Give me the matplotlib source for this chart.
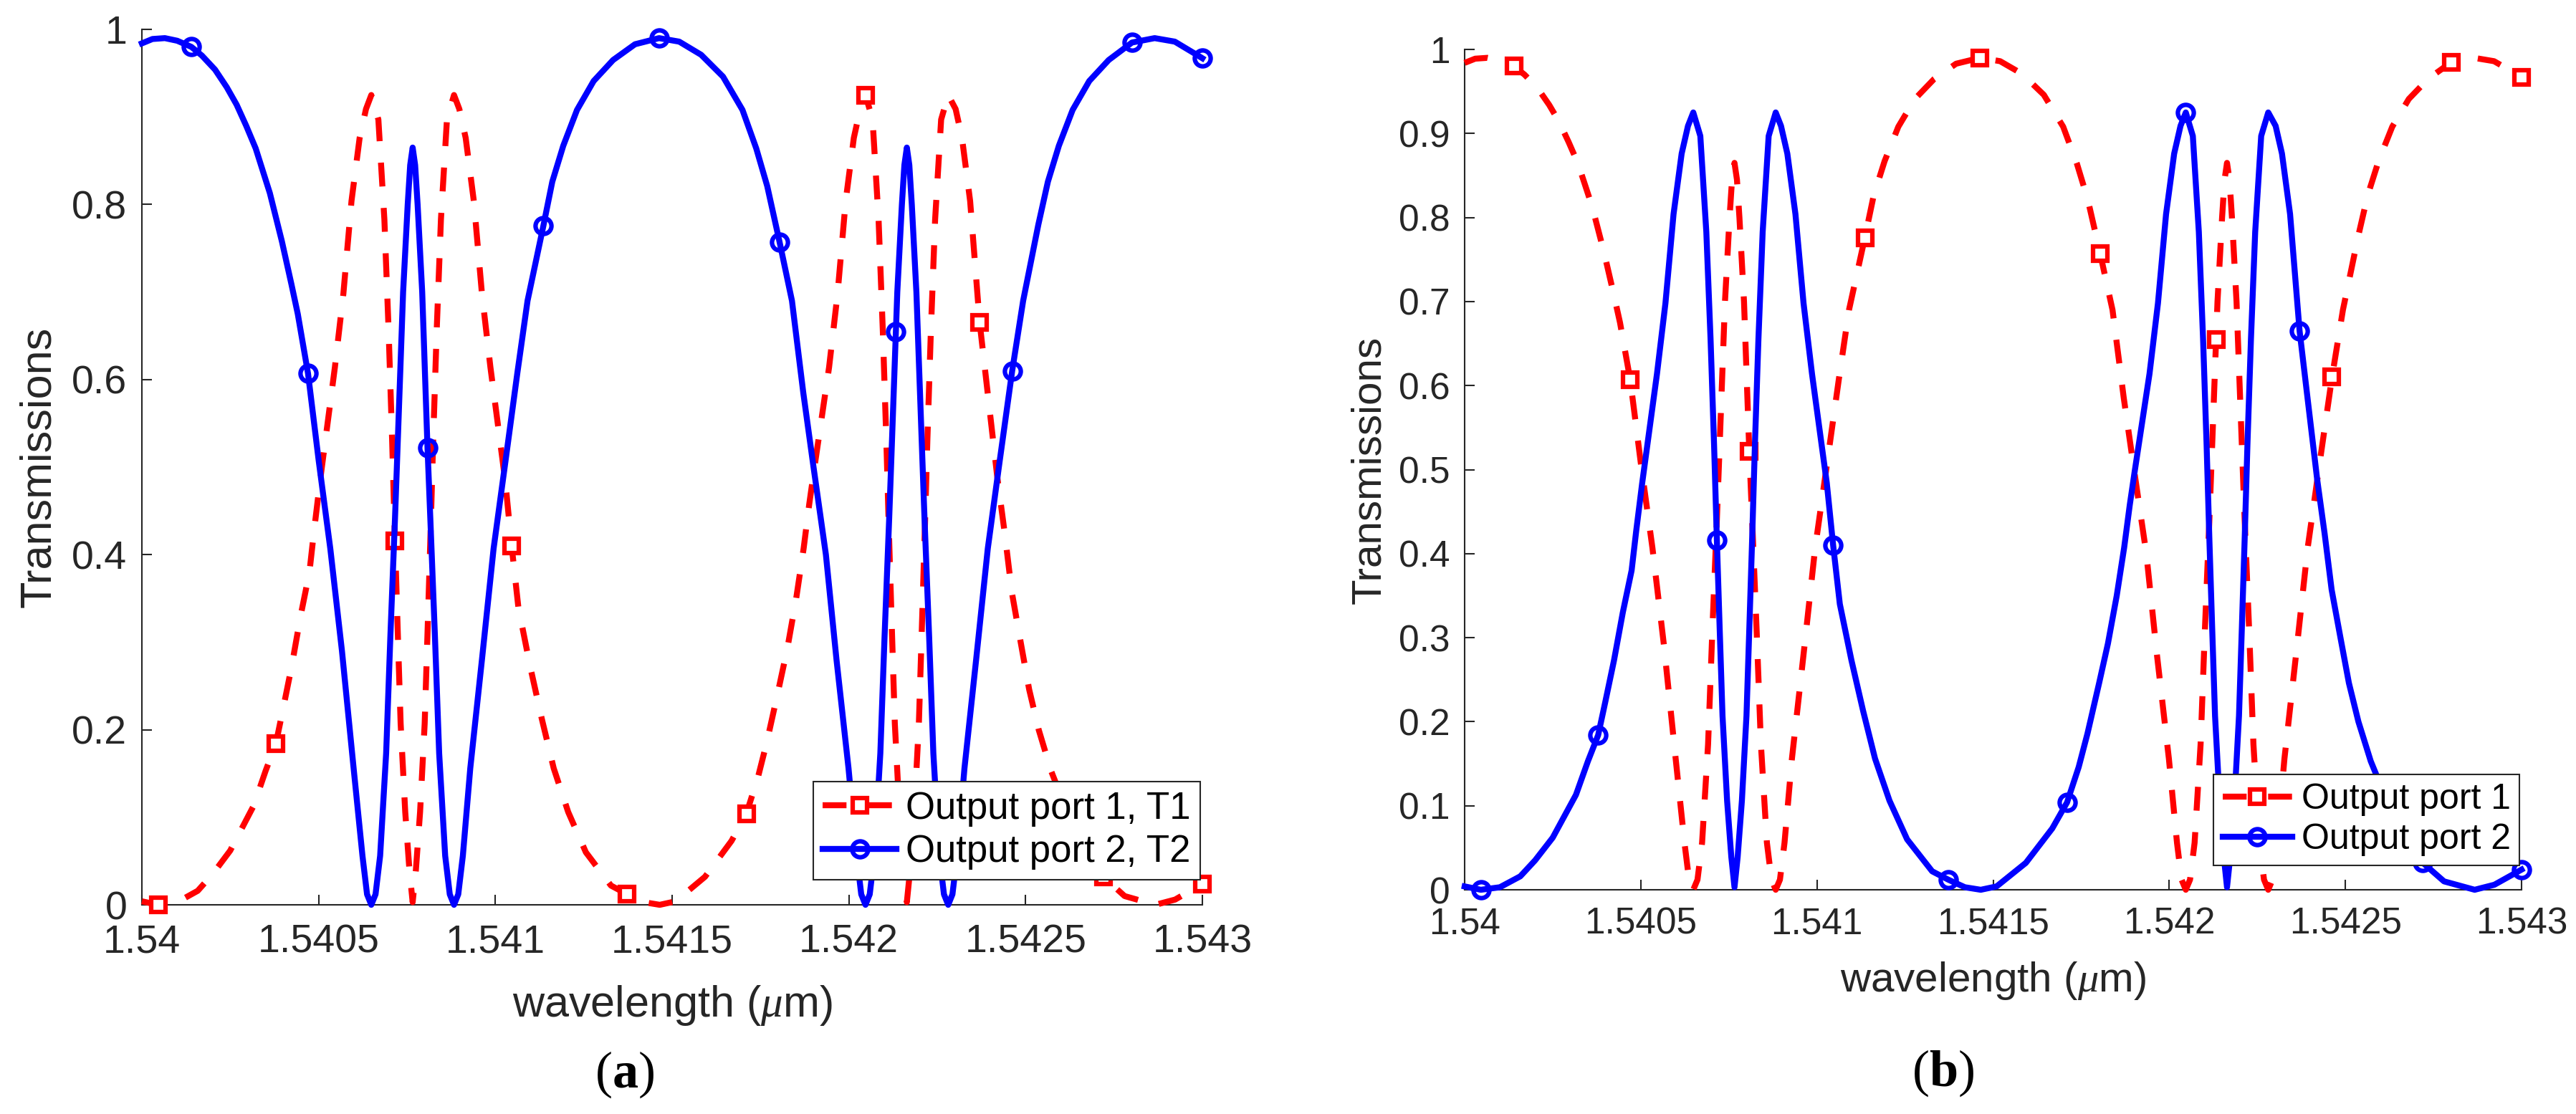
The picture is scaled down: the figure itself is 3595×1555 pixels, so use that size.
import numpy as np
import matplotlib
matplotlib.use('Agg')
import matplotlib.pyplot as plt
from matplotlib.lines import Line2D

plt.rcParams['font.family'] = ['Liberation Sans', 'DejaVu Sans']
plt.rcParams['mathtext.fontset'] = 'custom'
plt.rcParams['mathtext.rm'] = 'Liberation Serif'
plt.rcParams['mathtext.it'] = 'Liberation Serif:italic'
plt.rcParams['mathtext.bf'] = 'Liberation Serif:bold'

# -------- axis ticks --------
x_ticks = [1.54, 1.5405, 1.541, 1.5415, 1.542, 1.5425, 1.543]
x_tick_labels = ['1.54', '1.5405', '1.541', '1.5415', '1.542', '1.5425', '1.543']
y_ticks_a = [0, 0.2, 0.4, 0.6, 0.8, 1]
y_tick_labels_a = ['0', '0.2', '0.4', '0.6', '0.8', '1']
y_ticks_b = [0, 0.1, 0.2, 0.3, 0.4, 0.5, 0.6, 0.7, 0.8, 0.9, 1]
y_tick_labels_b = ['0', '0.1', '0.2', '0.3', '0.4', '0.5', '0.6', '0.7', '0.8', '0.9', '1']

# -------- curve with wide lobes (port 2 in (a), port 1 in (b)) --------
lobe_x = [1.540000, 1.540030, 1.540065, 1.540100, 1.540140, 1.540170, 1.540207, 1.540240,
          1.540268, 1.540295, 1.540322, 1.540362, 1.540396, 1.540423, 1.540441, 1.540470,
          1.540500, 1.540533, 1.540566, 1.540599, 1.540624, 1.540637, 1.540649, 1.540661,
          1.540674, 1.540691, 1.540703, 1.540716, 1.540722, 1.540739, 1.540752, 1.540759,
          1.540766, 1.540773, 1.540780, 1.540793, 1.540808, 1.540816, 1.540829, 1.540841,
          1.540858, 1.540871, 1.540883, 1.540895, 1.540908, 1.540929, 1.540962, 1.540995,
          1.541029, 1.541062, 1.541091, 1.541136, 1.541161, 1.541192, 1.541231, 1.541278,
          1.541333, 1.541395, 1.541463, 1.541520, 1.541582, 1.541644, 1.541699, 1.541738,
          1.541769, 1.541804, 1.541839, 1.541871, 1.541900, 1.541935, 1.541965, 1.541999,
          1.542022, 1.542035, 1.542047, 1.542059, 1.542072, 1.542089, 1.542101, 1.542114,
          1.542120, 1.542133, 1.542137, 1.542150, 1.542157, 1.542164, 1.542171, 1.542178,
          1.542191, 1.542208, 1.542214, 1.542227, 1.542239, 1.542256, 1.542269, 1.542281,
          1.542293, 1.542306, 1.542327, 1.542360, 1.542393, 1.542427, 1.542462, 1.542493,
          1.542536, 1.542563, 1.542594, 1.542633, 1.542680, 1.542735, 1.542801, 1.542865,
          1.542922, 1.542984, 1.543000]
lobe_y = [0.984, 0.989, 0.990, 0.987, 0.980, 0.970, 0.954, 0.934,
          0.914, 0.890, 0.864, 0.813, 0.758, 0.709, 0.675, 0.607,
          0.508, 0.407, 0.290, 0.156, 0.056, 0.012, 0.000, 0.012,
          0.056, 0.173, 0.307, 0.441, 0.508, 0.700, 0.800, 0.845,
          0.865, 0.845, 0.800, 0.700, 0.522, 0.441, 0.307, 0.173,
          0.056, 0.012, 0.000, 0.012, 0.056, 0.156, 0.280, 0.407,
          0.508, 0.607, 0.690, 0.776, 0.826, 0.867, 0.908, 0.941,
          0.965, 0.983, 0.990, 0.986, 0.971, 0.946, 0.908, 0.864,
          0.821, 0.757, 0.690, 0.585, 0.500, 0.400, 0.280, 0.156,
          0.056, 0.012, 0.000, 0.012, 0.056, 0.173, 0.307, 0.441,
          0.508, 0.655, 0.700, 0.800, 0.845, 0.865, 0.845, 0.800,
          0.700, 0.508, 0.441, 0.307, 0.173, 0.056, 0.012, 0.000,
          0.012, 0.056, 0.156, 0.280, 0.407, 0.508, 0.610, 0.690,
          0.777, 0.826, 0.867, 0.908, 0.941, 0.965, 0.985, 0.990,
          0.986, 0.971, 0.967]
lobe_marks = [1.540140, 1.540470, 1.540808, 1.541136, 1.541463,
              1.541804, 1.542133, 1.542462, 1.542801, 1.543000]

# -------- curve with narrow peaks (port 1 in (a), port 2 in (b)) --------
peak_x = [1.540000, 1.540046, 1.540100, 1.540158, 1.540200, 1.540250, 1.540316, 1.540350,
          1.540379, 1.540399, 1.540424, 1.540449, 1.540474, 1.540487, 1.540504, 1.540546,
          1.540570, 1.540593, 1.540616, 1.540634, 1.540649, 1.540669, 1.540686, 1.540698,
          1.540708, 1.540716, 1.540724, 1.540732, 1.540745, 1.540757, 1.540766, 1.540775,
          1.540787, 1.540800, 1.540808, 1.540816, 1.540824, 1.540834, 1.540846, 1.540863,
          1.540883, 1.540898, 1.540916, 1.540939, 1.540962, 1.540986, 1.541028, 1.541046,
          1.541065, 1.541098, 1.541131, 1.541165, 1.541206, 1.541256, 1.541327, 1.541373,
          1.541420, 1.541465, 1.541510, 1.541593, 1.541668, 1.541710, 1.541743, 1.541768,
          1.541801, 1.541826, 1.541851, 1.541872, 1.541888, 1.541902, 1.541944, 1.541968,
          1.541991, 1.542014, 1.542032, 1.542047, 1.542067, 1.542084, 1.542096, 1.542106,
          1.542114, 1.542122, 1.542130, 1.542143, 1.542155, 1.542164, 1.542173, 1.542185,
          1.542198, 1.542206, 1.542214, 1.542222, 1.542232, 1.542244, 1.542261, 1.542281,
          1.542302, 1.542320, 1.542343, 1.542370, 1.542394, 1.542420, 1.542441, 1.542461,
          1.542486, 1.542510, 1.542537, 1.542572, 1.542614, 1.542660, 1.542720, 1.542780,
          1.542867, 1.542923, 1.543000]
peak_y = [0.004, 0.000, 0.003, 0.016, 0.035, 0.062, 0.113, 0.153,
          0.184, 0.223, 0.273, 0.330, 0.380, 0.427, 0.484, 0.614,
          0.698, 0.804, 0.876, 0.909, 0.925, 0.897, 0.783, 0.656,
          0.530, 0.416, 0.310, 0.207, 0.106, 0.039, 0.003, 0.039,
          0.106, 0.207, 0.310, 0.416, 0.530, 0.656, 0.783, 0.897,
          0.925, 0.909, 0.876, 0.804, 0.698, 0.614, 0.484, 0.410,
          0.340, 0.273, 0.213, 0.156, 0.106, 0.060, 0.022, 0.012,
          0.003, 0.000, 0.004, 0.032, 0.073, 0.104, 0.146, 0.186,
          0.246, 0.293, 0.350, 0.407, 0.458, 0.498, 0.614, 0.698,
          0.804, 0.876, 0.909, 0.925, 0.897, 0.783, 0.656, 0.530,
          0.416, 0.310, 0.207, 0.106, 0.039, 0.003, 0.039, 0.106,
          0.207, 0.310, 0.416, 0.530, 0.656, 0.783, 0.897, 0.925,
          0.909, 0.876, 0.804, 0.665, 0.580, 0.488, 0.424, 0.357,
          0.300, 0.246, 0.200, 0.153, 0.110, 0.070, 0.032, 0.010,
          0.000, 0.006, 0.024]
peak_marks = [1.540046, 1.540379, 1.540716, 1.541046, 1.541373,
              1.541710, 1.542047, 1.542370, 1.542720, 1.543000]

legend_a = ['Output port 1, T1', 'Output port 2, T2']
legend_b = ['Output port 1', 'Output port 2']

# -------- styles --------
RED = (1, 0, 0)
BLUE = (0, 0, 1)
AXC = '#262626'
LW = 6
DASH = (4.0, 3.6)
MS_SQ = 15
MS_O = 16
MEW = 4.5

fig = plt.figure(figsize=(35.95, 15.55), dpi=100)
ax_a = fig.add_axes([198 / 3595, 1 - 1263 / 1555, 1480 / 3595, 1222 / 1555])
ax_b = fig.add_axes([2044 / 3595, 1 - 1242 / 1555, 1475 / 3595, 1173 / 1555])


def draw(ax, red, blue, labels, yt, ytl, fs, lab_fs, leg_fs, xpad, ylab_x, xlab_y):
    rx, ry, rm = red
    bx, by, bm = blue
    r_idx = [rx.index(m) for m in rm]
    b_idx = [bx.index(m) for m in bm]
    ax.plot(rx, ry, color=RED, lw=LW, ls='--', dashes=DASH, marker='s', ms=MS_SQ,
            mew=MEW, mfc='white', mec=RED, markevery=r_idx, clip_on=False, zorder=3)
    ax.plot(bx, by, color=BLUE, lw=LW, ls='-', marker='o', ms=MS_O, mew=MEW,
            mfc='none', mec=BLUE, markevery=b_idx, clip_on=False, zorder=4)

    ax.set_xlim(1.54, 1.543)
    ax.set_ylim(0, 1)
    ax.set_xticks(x_ticks)
    ax.set_xticklabels(x_tick_labels)
    ax.set_yticks(yt)
    ax.set_yticklabels(ytl)
    for s in ['top', 'right']:
        ax.spines[s].set_visible(False)
    for s in ['left', 'bottom']:
        ax.spines[s].set_color(AXC)
        ax.spines[s].set_linewidth(1.5)
    ax.tick_params(axis='both', direction='in', length=10, width=1.5,
                   colors=AXC, labelsize=fs)
    ax.tick_params(axis='x', pad=xpad)
    ax.tick_params(axis='y', pad=15)

    ax.set_xlabel(r'wavelength ($\mu$m)', fontsize=lab_fs, color=AXC, va='center')
    ax.xaxis.set_label_coords(0.5, xlab_y)
    ax.set_ylabel('Transmissions', fontsize=lab_fs, color=AXC, va='center')
    ax.yaxis.set_label_coords(ylab_x, 0.5)

    handles = [
        Line2D([0], [0], color=RED, lw=LW, ls='--', dashes=DASH, marker='s',
               ms=MS_SQ, mew=MEW, mfc='white', mec=RED),
        Line2D([0], [0], color=BLUE, lw=LW, ls='-', marker='o', ms=MS_O,
               mew=MEW, mfc='none', mec=BLUE),
    ]
    leg = ax.legend(handles, labels, loc='lower right', bbox_to_anchor=(0.998, 0.029),
                    fontsize=leg_fs, frameon=True, fancybox=False, framealpha=1,
                    edgecolor=AXC, borderpad=0.25, labelspacing=0.2,
                    handlelength=1.95, handletextpad=0.25, borderaxespad=0)
    leg.get_frame().set_linewidth(1.5)


draw(ax_a, (peak_x, peak_y, peak_marks), (lobe_x, lobe_y, lobe_marks), legend_a,
     y_ticks_a, y_tick_labels_a, 40, 44, 38, 19, -0.0966, -0.115)
draw(ax_b, (lobe_x, lobe_y, lobe_marks), (peak_x, peak_y, peak_marks), legend_b,
     y_ticks_b, y_tick_labels_b, 37, 42, 36, 17, -0.0902, -0.108)

fig.text(872 / 3595, 1 - 1500 / 1555, r'$\mathrm{(}\mathbf{a}\mathrm{)}$',
         fontsize=52, ha='center', va='center')
fig.text(2712 / 3595, 1 - 1498 / 1555, r'$\mathrm{(}\mathbf{b}\mathrm{)}$',
         fontsize=52, ha='center', va='center')

fig.savefig('out.png', dpi=100)
